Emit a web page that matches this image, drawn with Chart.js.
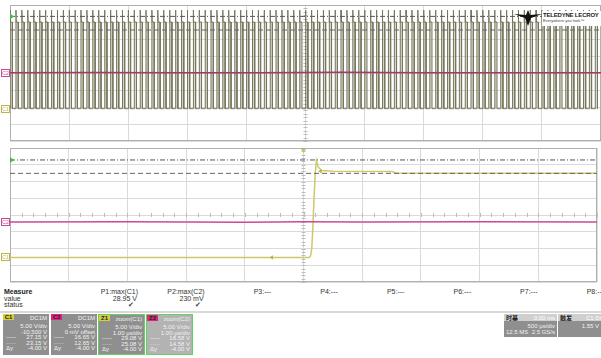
<!DOCTYPE html>
<html>
<head>
<meta charset="utf-8">
<script src="https://cdn.jsdelivr.net/npm/chart.js@4.4.1/dist/chart.umd.min.js"></script>
<style>
  body { margin: 0; width: 601px; height: 358px; background: #fff; overflow: hidden; position: relative;
         font-family: "Liberation Sans", Arial, sans-serif; }
  canvas { position: absolute; left: 0; }
  #topScope { top: 0; }
  #zoomScope { top: 144px; }
  .t { position: absolute; white-space: nowrap; font-size: 7px; line-height: 7px; color: #333; }
  .r { text-align: right; }
  .box { position: absolute; top: 314px; height: 41px; background: #8f8f8f; box-sizing: border-box; overflow: hidden; }
  .box .row { position: absolute; left: 2px; right: 2px; font-size: 6px; line-height: 6px; color: #f2f2f2; white-space: nowrap; }
  .box .row span { position: absolute; }
  .tag { position: absolute; left: 0; top: 0; width: 11px; height: 6px; font-size: 6px; line-height: 6px;
         font-weight: bold; color: #222; text-align: center; }
  .sep { position: absolute; left: 0; top: 311px; width: 601px; height: 2px; background: #d8d8d8; }
</style>
</head>
<body>
<canvas id="topScope" width="601" height="144"></canvas>
<canvas id="zoomScope" width="601" height="142"></canvas>
<div id="ui"></div>
<script>
// ---- timebases (us) ----
const topTimeUs = [-2500, 2500];   // 500 us/div
const zoomTimeUs = [-5, 5];        // 1 us/div
const divsY = [-4, 4];
const voltsPerDiv = 5;

// ---- vertical centre of each trace (V at screen centre) ----
const c1CentreV = 10.5;
const c2CentreV = 0;
const z1CentreV = 12.65;
const z2CentreV = 2.13;

// ---- C1 pulse train: rising edges (us) ----
const c1RiseUs = [
  -2500, -2450, -2400, -2350, -2300, -2250, -2200, -2150, -2100, -2050,
  -2000, -1950, -1900, -1850, -1800, -1750, -1700, -1650, -1600, -1550,
  -1500, -1450, -1400, -1350, -1300, -1250, -1200, -1150, -1100, -1050,
  -1000, -950, -900, -850, -800, -750, -700, -650, -600, -550,
  -500, -450, -400, -350, -300, -250, -200, -150, -100, -50,
  0, 50, 100, 150, 200, 250, 300, 350, 400, 450,
  500, 550, 600, 650, 700, 750, 800, 850, 900, 950,
  1000, 1050, 1100, 1150, 1200, 1250, 1300, 1350, 1400, 1450,
  1500, 1550, 1600, 1650, 1700, 1750, 1800, 1850, 1900, 1950,
  2000, 2050, 2100, 2150, 2200, 2250, 2300, 2350, 2400, 2450
];
// one pulse: time after edge (us) and level (V)
const c1PulseShapeUs = [0, 0.4, 3, 20, 20.4];
const c1PulseShapeV = [0, 29.0, 25.5, 25.5, 0];

// ---- C2 (top) ----
const c2TopTimeUs = [-2500, -1800, -1100, -400, 300, 1000, 1700, 2500];
const c2TopV = [0.1, 0.15, 0.05, 0.1, 0.2, 0.1, 0.05, 0.1];

// ---- cursors ----
const c1CursorsV = [27.15, 23.15];
const z1CursorsV = [29.08, 25.08];

// ---- Z1 = zoom(C1) ----
const z1TimeUs = [-5, 0.1, 0.12, 0.14, 0.16, 0.18, 0.2, 0.22, 0.25, 0.31, 0.5, 1.5, 1.58, 5];
const z1V = [0, 0, 0.4, 2.5, 9, 18, 25, 28.9, 27, 25.9, 25.7, 25.6, 25.2, 25.1];
// trace arrows on Z1
const z1ArrowUs = [-0.54, 0.29];
const z1ArrowV = [0, 25.7];

// ---- Z2 = zoom(C2) ----
const z2TimeUs = [-5, -3, -1, 0, 1, 3, 5];
const z2V = [0.05, 0.1, 0.0, 0.1, 0.05, 0.12, 0.05];

// ---- measure + boxes ----
const measureHeads = ['P1:max(C1)', 'P2:max(C2)', 'P3:---', 'P4:---', 'P5:---', 'P6:---', 'P7:---', 'P8:---'];
const measureValues = ['28.95 V', '230 mV', '', '', '', '', '', ''];
const measureStatus = ['\u2714', '\u2714', '', '', '', '', '', ''];

const YELLOW = '#cfc86a';
const PINK = '#cc4a93';

function pts(xs, ys) { return xs.map((x, i) => ({ x, y: ys[i] })); }
function flat(xr, v) { return [{ x: xr[0], y: v }, { x: xr[1], y: v }]; }

const pulseData = [];
c1RiseUs.forEach(t0 => {
  c1PulseShapeUs.forEach((dt, i) => pulseData.push({ x: t0 + dt, y: c1PulseShapeV[i] }));
});

const scopeDecor = {
  id: 'scopeDecor',
  beforeDatasetsDraw(chart) {
    const { ctx, chartArea: a, scales } = chart;
    const cx = scales.x.getPixelForValue(0);
    const cy = scales.div.getPixelForValue(0);
    ctx.save();
    ctx.strokeStyle = '#bcbcbc';
    ctx.lineWidth = 1;
    ctx.beginPath();
    const dx = (a.right - a.left) / 50, dy = (a.bottom - a.top) / 40;
    for (let i = 0; i <= 50; i++) { const p = Math.round(a.left + i * dx) + 0.5; ctx.moveTo(p, cy - 2); ctx.lineTo(p, cy + 2); }
    for (let i = 0; i <= 40; i++) { const p = Math.round(a.top + i * dy) + 0.5; ctx.moveTo(cx - 2, p); ctx.lineTo(cx + 2, p); }
    ctx.stroke();
    ctx.strokeStyle = '#b0b0b0';
    ctx.strokeRect(a.left + 0.5, a.top + 0.5, a.right - a.left - 1, a.bottom - a.top - 1);
    ctx.restore();
  },
  afterDatasetsDraw(chart, args, opts) {
    const { ctx, chartArea: a, scales } = chart;
    ctx.save();
    (opts.tags || []).forEach(tg => {
      const y = Math.round(scales[tg.axis].getPixelForValue(tg.value));
      ctx.fillStyle = '#fff';
      ctx.fillRect(1, y - 4, 9, 8);
      ctx.strokeStyle = tg.color;
      ctx.strokeRect(1.5, y - 3.5, 8, 7);
      ctx.fillStyle = tg.color;
      ctx.font = '5px "Liberation Sans"';
      ctx.textAlign = 'center';
      ctx.textBaseline = 'middle';
      ctx.fillText(tg.text, 5.5, y + 0.5);
    });
    (opts.greens || []).forEach(g => {
      const y = scales[g.axis].getPixelForValue(g.value);
      ctx.fillStyle = '#3cbf4a';
      ctx.beginPath();
      ctx.moveTo(a.left, y - 3); ctx.lineTo(a.left + 4, y); ctx.lineTo(a.left, y + 3); ctx.closePath();
      ctx.fill();
    });
    if (opts.trigger) {
      const x = scales.x.getPixelForValue(0);
      ctx.fillStyle = '#c9c25a';
      ctx.beginPath();
      ctx.moveTo(x - 2.5, a.top + 1); ctx.lineTo(x + 2.5, a.top + 1); ctx.lineTo(x, a.top + 5); ctx.closePath();
      ctx.fill();
    }
    ctx.restore();
  }
};

function scopeOptions(xRange, xStep, yAxes, decor, pad) {
  const scales = {
    x: { type: 'linear', min: xRange[0], max: xRange[1],
         ticks: { display: false, stepSize: xStep }, grid: { color: '#dadada', drawTicks: false }, border: { display: false } },
    div: { type: 'linear', position: 'left', min: divsY[0], max: divsY[1],
           ticks: { display: false, stepSize: 1 }, grid: { color: '#dadada', drawTicks: false }, border: { display: false } }
  };
  Object.keys(yAxes).forEach(k => {
    scales[k] = { type: 'linear', display: false, min: yAxes[k][0], max: yAxes[k][1] };
  });
  return {
    responsive: false, animation: false, events: [],
    layout: { padding: pad },
    scales,
    plugins: { legend: { display: false }, tooltip: { enabled: false }, scopeDecor: decor }
  };
}

function range(centre) { return [centre + divsY[0] * voltsPerDiv, centre + divsY[1] * voltsPerDiv]; }

const lineBase = { pointRadius: 0, tension: 0, fill: false };

// ---- top: full acquisition ----
new Chart(document.getElementById('topScope'), {
  type: 'line',
  data: {
    datasets: [
      { ...lineBase, data: flat(topTimeUs, c1CursorsV[0]), yAxisID: 'yc1', borderColor: '#555', borderWidth: 1, borderDash: [5, 2, 1, 2] },
      { ...lineBase, data: flat(topTimeUs, c1CursorsV[1]), yAxisID: 'yc1', borderColor: '#666', borderWidth: 1, borderDash: [5, 3] },
      { ...lineBase, data: pts(c2TopTimeUs, c2TopV), yAxisID: 'yc2', borderColor: '#a8386a', borderWidth: 1.5 },
      { ...lineBase, data: pulseData, yAxisID: 'yc1', borderColor: '#77775f', borderWidth: 1,
        fill: 'origin', backgroundColor: 'rgba(180,180,150,0.5)' }
    ]
  },
  options: scopeOptions(topTimeUs, 500, { yc1: range(c1CentreV), yc2: range(c2CentreV) }, {
    tags: [{ text: 'C2', color: PINK, axis: 'yc2', value: 0 }, { text: 'C1', color: '#bdb548', axis: 'yc1', value: 0 }],
    greens: [{ axis: 'yc1', value: c1CursorsV[0] }]
  }, { left: 10, right: 0, top: 5, bottom: 3 }),
  plugins: [scopeDecor]
});

// ---- bottom: zoom traces ----
new Chart(document.getElementById('zoomScope'), {
  type: 'line',
  data: {
    datasets: [
      { ...lineBase, data: flat(zoomTimeUs, z1CursorsV[0]), yAxisID: 'yz1', borderColor: '#555', borderWidth: 1, borderDash: [5, 2, 1, 2] },
      { ...lineBase, data: flat(zoomTimeUs, z1CursorsV[1]), yAxisID: 'yz1', borderColor: '#666', borderWidth: 1, borderDash: [5, 3] },
      { data: pts(z1ArrowUs, z1ArrowV), yAxisID: 'yz1', showLine: false, pointStyle: 'triangle', pointRotation: -90,
        pointRadius: 2.5, pointBackgroundColor: '#bdb548', pointBorderWidth: 0 },
      { ...lineBase, data: pts(z2TimeUs, z2V), yAxisID: 'yz2', borderColor: PINK, borderWidth: 1.5 },
      { ...lineBase, data: pts(z1TimeUs, z1V), yAxisID: 'yz1', borderColor: YELLOW, borderWidth: 1.5 }
    ]
  },
  options: scopeOptions(zoomTimeUs, 1, { yz1: range(z1CentreV), yz2: range(z2CentreV) }, {
    tags: [{ text: 'C2', color: PINK, axis: 'yz2', value: 0 }, { text: 'C1', color: '#bdb548', axis: 'yz1', value: 0 }],
    greens: [{ axis: 'yz1', value: z1CursorsV[0] }],
    trigger: true
  }, { left: 10, right: 0, top: 4, bottom: 2 }),
  plugins: [scopeDecor]
});

// ---- text panels ----
const ui = document.getElementById('ui');
let html = '';
html += '<div class="t" style="left:4px;top:288px;font-weight:bold;color:#222">Measure</div>';
html += '<div class="t" style="left:4px;top:295px">value</div>';
html += '<div class="t" style="left:4px;top:301px">status</div>';
measureHeads.forEach((h, i) => {
  const right = 601 - (138 + i * 66.6);
  html += `<div class="t r" style="right:${right}px;top:288px">${h}</div>`;
  if (measureValues[i]) html += `<div class="t r" style="right:${right + 1}px;top:295px">${measureValues[i]}</div>`;
  if (measureStatus[i]) html += `<div class="t r" style="right:${right + 4}px;top:301px;color:#444">${measureStatus[i]}</div>`;
});
html += '<div class="sep"></div>';

const boxes = [
  { left: 3, width: 46, tag: 'C1', tagColor: '#d6cc3c', head: 'DC1M', rows: ['5.00 V/div', '-10.500 V', '27.15 V', '23.15 V', '-4.00 V'] },
  { left: 51, width: 46, tag: 'C2', tagColor: '#e2207e', head: 'DC1M', rows: ['5.00 V/div', '0 mV offset', '16.65 V', '12.65 V', '-4.00 V'] },
  { left: 98, width: 47, tag: 'Z1', tagColor: '#d6cc3c', head: 'zoom(C1)', rows: ['5.00 V/div', '1.00 \u00b5s/div', '29.08 V', '25.08 V', '-4.00 V'], sel: true },
  { left: 146, width: 47, tag: 'Z2', tagColor: '#e2207e', head: 'zoom(C2)', rows: ['5.00 V/div', '1.00 \u00b5s/div', '18.58 V', '14.58 V', '-4.00 V'], sel: true, light: true }
];
const rowTops = [9, 14.5, 20, 25.5, 31];
boxes.forEach(b => {
  const bg = b.light ? '#b3b3b3' : '#8f8f8f';
  const border = b.sel ? 'border:1px solid #5fd35f;' : '';
  html += `<div class="box" style="left:${b.left}px;width:${b.width}px;background:${bg};${border}">`;
  html += `<div class="tag" style="background:${b.tagColor}">${b.tag}</div>`;
  html += `<div class="row" style="top:1px"><span style="right:0">${b.head}</span></div>`;
  b.rows.forEach((r, i) => {
    let left = '';
    if (i === 2) left = '<span style="left:1px">-----</span>';
    if (i === 3) left = '<span style="left:1px">\u00b7\u00b7\u00b7\u00b7\u00b7</span>';
    if (i === 4) left = '<span style="left:1px">\u0394y</span>';
    html += `<div class="row" style="top:${rowTops[i]}px">${left}<span style="right:0">${r}</span></div>`;
  });
  html += '</div>';
});

// timebase / trigger
html += '<div class="box" style="left:504px;width:53px;height:23px;background:#8f8f8f">' +
  '<div class="row" style="left:0;right:0;top:0;height:7px;background:#cfcfcf"></div>' +
  '<div class="row" style="top:0.5px"><span style="left:0;color:#222;font-weight:bold;font-family:\'Noto Sans CJK SC\'">\u65f6\u57fa</span><span style="right:0;color:#fff">0.00 ms</span></div>' +
  '<div class="row" style="top:9px"><span style="right:0">500 \u00b5s/div</span></div>' +
  '<div class="row" style="top:15px"><span style="left:0">12.5 MS</span><span style="right:0">2.5 GS/s</span></div></div>';
html += '<div class="box" style="left:558px;width:45px;height:23px;background:#8f8f8f">' +
  '<div class="row" style="left:0;right:0;top:0;height:7px;background:#cfcfcf"></div>' +
  '<div class="row" style="top:0.5px"><span style="left:0;color:#222;font-weight:bold;font-family:\'Noto Sans CJK SC\'">\u89e6\u53d1</span><span style="left:26px;color:#fff">C1 DC</span></div>' +
  '<div class="row" style="top:9px"><span style="right:2px">1.55 V</span></div></div>';

// logo
html += '<svg style="position:absolute;left:514px;top:10px" width="28" height="16" viewBox="0 0 28 16">' +
  '<path d="M0 4 L12 5 L14 0 L16 5 L28 4 L17 8 L14 16 L11 8 Z" fill="#111"/></svg>';
html += '<div style="position:absolute;left:542px;top:11px;width:60px;height:15px;background:#fff"></div>';
html += '<div class="t" style="left:543px;top:12px;font-size:6px;line-height:6px;font-weight:bold;color:#222;letter-spacing:-0.2px">TELEDYNE LECROY</div>';
html += '<div class="t" style="left:543px;top:19px;font-size:4px;line-height:4px;color:#444">Everywhere you look\u2122</div>';
ui.innerHTML = html;
</script>
</body>
</html>
